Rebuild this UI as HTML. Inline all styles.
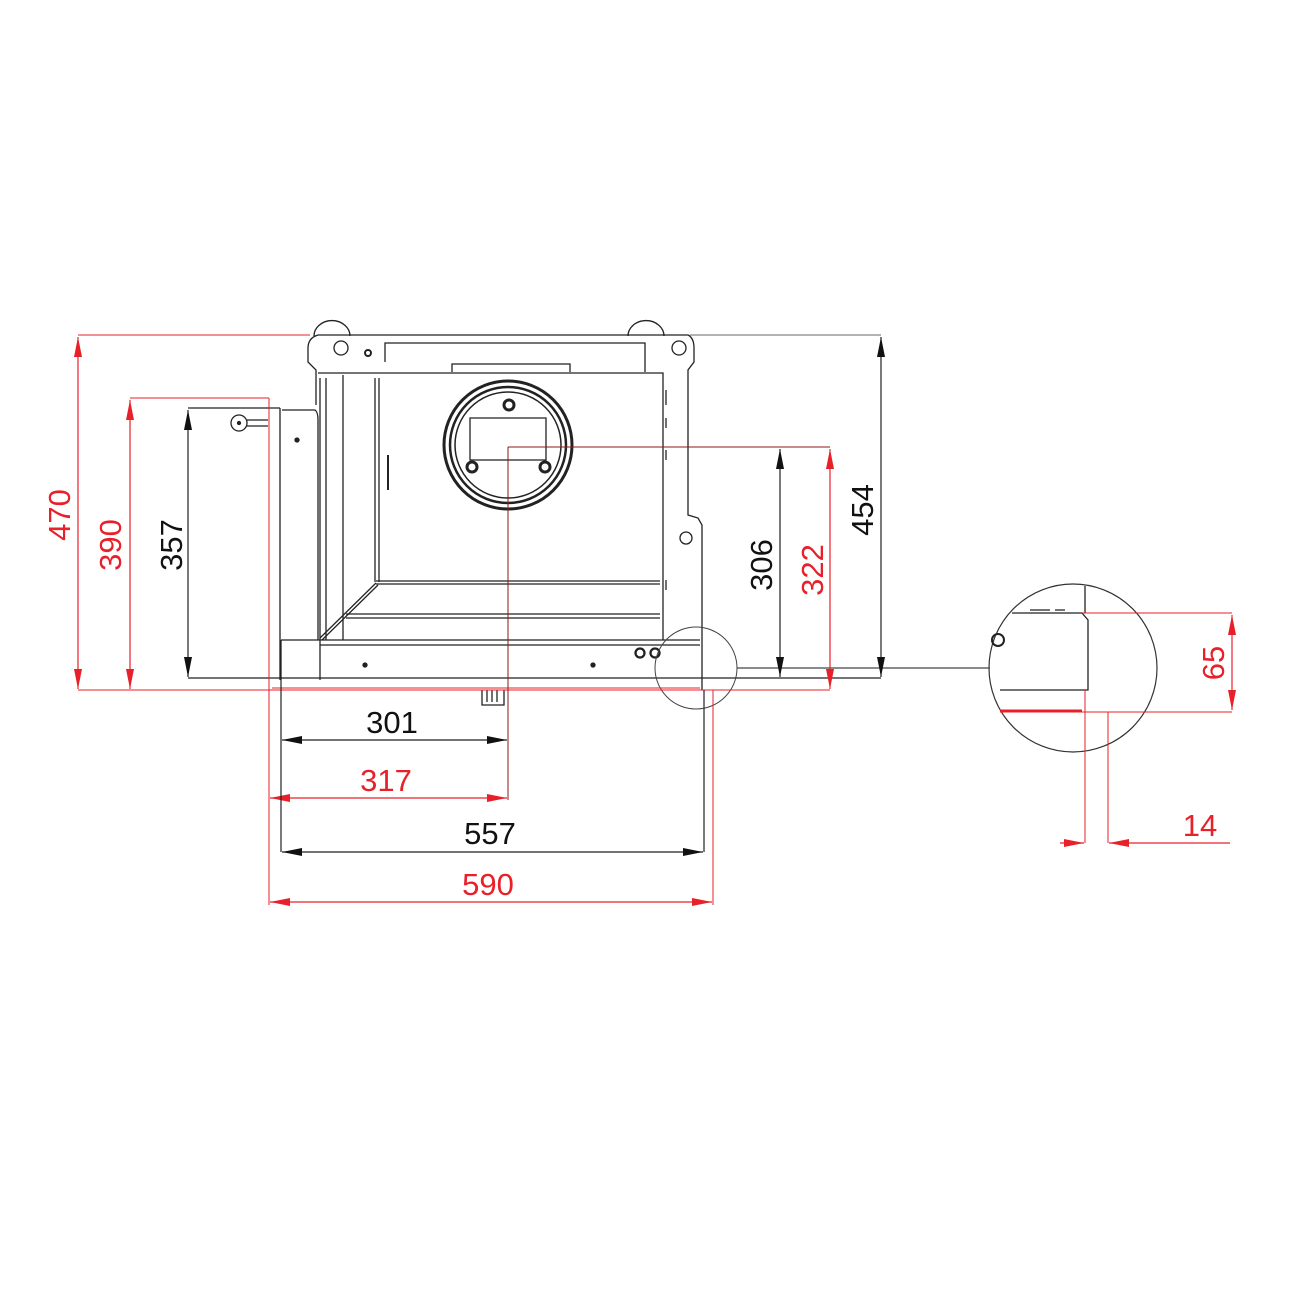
<!DOCTYPE html>
<html><head><meta charset="utf-8"><style>
html,body{margin:0;padding:0;background:#fff}
svg{display:block}
text{font-family:"Liberation Sans",sans-serif;font-size:31px}
</style></head><body>
<svg width="1300" height="1300" viewBox="0 0 1300 1300" xmlns="http://www.w3.org/2000/svg">
<defs>
<marker id="ak" viewBox="0 0 20 8" refX="20" refY="4" markerWidth="20" markerHeight="8" markerUnits="userSpaceOnUse" orient="auto-start-reverse"><path d="M0,0L20,4L0,8z" fill="#111"/></marker>
<marker id="ar" viewBox="0 0 20 8" refX="20" refY="4" markerWidth="20" markerHeight="8" markerUnits="userSpaceOnUse" orient="auto-start-reverse"><path d="M0,0L20,4L0,8z" fill="#e8202a"/></marker>
</defs>
<g fill="none" stroke="#222" stroke-width="1.3">
<!-- body outer -->
<path d="M318,335 Q308,338 308,348 L308,362 L316,370 L316,405"/>
<path d="M318,335 L688,335 Q694,338 694,348 L694,362 L688,370 L688,515 L698,518 L702,525 L702,690"/>
<path d="M314,336 a14,12 0 0 1 36,0 M628,336 a14,12 0 0 1 36,0"/>
<circle cx="341" cy="348" r="7"/><circle cx="679" cy="348" r="7"/><circle cx="368" cy="353" r="3" stroke-width="2"/>
<circle cx="686" cy="538" r="6"/>
<path d="M385,362 L385,343 L645,343 L645,372"/>
<path d="M452,372 L452,364 L570,364 L570,372"/>
<path d="M318,373 L663,373 L663,640"/>
<path d="M320,378 L320,640 M326,378 L326,640 M343,375 L343,640"/>
<path d="M375,378 L375,582 M379,378 L379,582"/>
<path d="M388,455 L388,490" stroke-width="2"/>
<path d="M376,581 L660,581 M376,584 L660,584"/>
<path d="M320,638 L376,583 M322,640 L378,585"/>
<path d="M346,614 L660,614 M346,618 L660,618"/>
<path d="M666,390 L666,405 M666,418 L666,428 M666,450 L666,460 M666,580 L666,590"/>
<!-- left side panel -->
<path d="M280,408 L280,680 M282,410 L315,410 Q318,412 318,420 L318,640"/>
<circle cx="297" cy="440" r="2" fill="#222"/>
<path d="M188,408 L280,408"/>
<circle cx="239" cy="423" r="8"/><circle cx="239" cy="423" r="1.5" fill="#222"/>
<path d="M247,420 L268,420 M247,426 L268,426"/>
<!-- bottom rail -->
<path d="M281,640 L700,640 M320,645 L700,645 M281,640 L281,680 M320,640 L320,680 M188,678 L881,678"/>
<circle cx="365" cy="665" r="2" fill="#222"/><circle cx="593" cy="665" r="2" fill="#222"/>
<circle cx="640" cy="653" r="4.5" stroke-width="2.3"/><circle cx="655" cy="653" r="4.5" stroke-width="2.3"/>
<path d="M482,690 L482,705 L504,705 L504,690 M487,690 L487,702 M492,690 L492,702 M497,690 L497,702"/>
<!-- fan circle -->
<circle cx="508" cy="445" r="64" stroke-width="3"/>
<circle cx="508" cy="445" r="58" stroke-width="2.5"/>
<circle cx="508" cy="445" r="53" stroke-width="1.5"/>
<path d="M470,418 L546,418 L546,460 L470,460 z"/>
<circle cx="509" cy="405" r="5" stroke-width="3"/><circle cx="472" cy="467" r="5" stroke-width="3"/><circle cx="545" cy="467" r="5" stroke-width="3"/>
<!-- detail circles -->
<circle cx="696" cy="668" r="41" stroke="#444" stroke-width="1"/>
<circle cx="1073" cy="668" r="84" stroke="#333" stroke-width="1.2"/>
<path d="M737,668 L990,668" stroke="#444"/>
<path d="M1012,613 L1082,613 L1088,620 L1088,690 L1000,690 M1085,586 L1085,613 M1030,610 L1050,610 M1055,610 L1065,610"/>
<circle cx="998" cy="640" r="6" stroke-width="2"/>
</g>
<!-- extension lines grey -->
<g stroke="#666" stroke-width="1" fill="none">
<path d="M690,335 L881,335"/>
</g>
<g stroke="#e8202a" stroke-width="1" fill="none">
<path d="M78,335 L310,335 M130,398 L269,398 M269,398 L269,905 M78,690 L713,690 M272,688 L700,688 M713,690 L713,905"/>
<path d="M508,447 L830,447" stroke="#8b1a1a"/>
<path d="M508,447 L508,800" stroke="#8b1a1a"/>
<path d="M700,690 L830,690"/>
<path d="M1082,613 L1232,613 M1000,712 L1232,712 M1085,690 L1085,843 M1108,712 L1108,843"/>
<path d="M1000,711 L1082,711" stroke-width="3"/>
</g>
<!-- dimension lines -->
<g stroke="#e8202a" stroke-width="1.2" fill="none">
<path d="M78,337 L78,689" marker-start="url(#ar)" marker-end="url(#ar)"/>
<path d="M130,400 L130,689" marker-start="url(#ar)" marker-end="url(#ar)"/>
<path d="M830,449 L830,689" marker-start="url(#ar)" marker-end="url(#ar)"/>
<path d="M1232,615 L1232,710" marker-start="url(#ar)" marker-end="url(#ar)"/>
<path d="M270,798 L507,798" marker-start="url(#ar)" marker-end="url(#ar)"/>
<path d="M270,902 L712,902" marker-start="url(#ar)" marker-end="url(#ar)"/>
<path d="M1060,843 L1084,843" marker-end="url(#ar)"/>
<path d="M1230,843 L1109,843" marker-end="url(#ar)"/>
</g>
<g stroke="#222" stroke-width="1.2" fill="none">
<path d="M188,410 L188,677" marker-start="url(#ak)" marker-end="url(#ak)"/>
<path d="M780,449 L780,677" marker-start="url(#ak)" marker-end="url(#ak)"/>
<path d="M881,337 L881,677" marker-start="url(#ak)" marker-end="url(#ak)"/>
<path d="M282,740 L507,740" marker-start="url(#ak)" marker-end="url(#ak)"/>
<path d="M282,852 L703,852" marker-start="url(#ak)" marker-end="url(#ak)"/>
<path d="M281,680 L281,852 M704,690 L704,852"/>
</g>
<g text-anchor="middle">
<text x="0" y="0" fill="#e8202a" transform="translate(70,515) rotate(-90)">470</text>
<text x="0" y="0" fill="#e8202a" transform="translate(121,545) rotate(-90)">390</text>
<text x="0" y="0" fill="#111" transform="translate(182,545) rotate(-90)">357</text>
<text x="0" y="0" fill="#111" transform="translate(772,565) rotate(-90)">306</text>
<text x="0" y="0" fill="#e8202a" transform="translate(823,570) rotate(-90)">322</text>
<text x="0" y="0" fill="#111" transform="translate(873,510) rotate(-90)">454</text>
<text x="0" y="0" fill="#e8202a" transform="translate(1224,663) rotate(-90)">65</text>
<text x="392" y="733" fill="#111">301</text>
<text x="386" y="791" fill="#e8202a">317</text>
<text x="490" y="844" fill="#111">557</text>
<text x="488" y="895" fill="#e8202a">590</text>
<text x="1200" y="836" fill="#e8202a">14</text>
</g>
</svg>
</body></html>
